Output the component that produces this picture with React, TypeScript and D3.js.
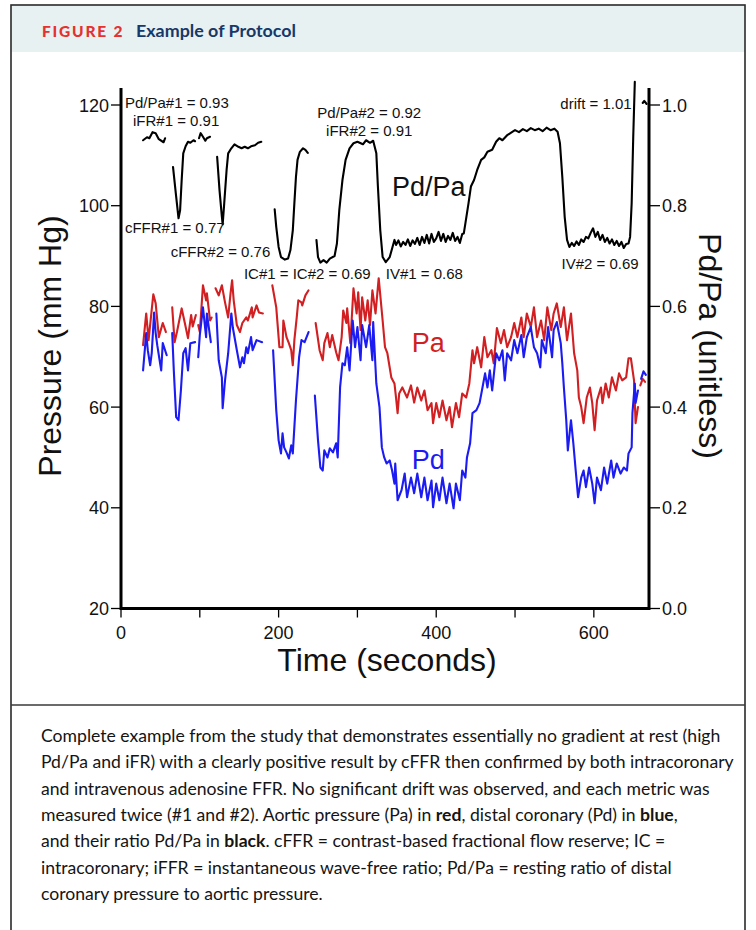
import React from "react";
import * as d3 from "d3";

type Pt = [number, number];

// Aortic pressure Pa (mm Hg) vs time (s), one array per recorded stretch
const paSegments: Pt[][] = [
  [[28, 72.3], [32, 78.6], [35, 73.3], [41, 82.4], [44, 80.6], [48, 73.9], [53, 76.7], [57, 74.9]],
  [[65, 79.8], [68, 72.9], [71, 74.9], [77, 79.6], [81, 76.7], [85, 73.7], [89, 78.3], [91, 76.0], [95, 78.3]],
  [[98, 76.3], [100, 74.9], [104, 84.2], [108, 81.2], [109, 82.6], [113, 77.2], [115, 77.8]],
  [[120, 83.6], [124, 82.2], [128, 84.2], [132, 80.8], [136, 77.8], [139, 82.6], [141, 85.2], [143, 81.2], [147, 76.3], [151, 74.9], [154, 76.7], [159, 77.8], [161, 77.2], [166, 79.8], [167, 77.8], [172, 80.2], [175, 78.8], [180, 78.6]],
  [[192, 84.2], [197, 79.8], [201, 71.9], [205, 71.9], [206, 77.2], [210, 73.9], [213, 72.7], [216, 71.3], [218, 68.3], [220, 73.3], [223, 77.8], [225, 81.2], [229, 80.8], [230, 80.2], [234, 82.2], [238, 83.2]],
  [[247, 76.7], [252, 71.3], [256, 69.3], [258, 72.7], [262, 74.7], [265, 71.9], [268, 74.3], [273, 70.9], [276, 69.3], [280, 73.9], [282, 79.2], [286, 76.7], [287, 79.6], [291, 72.7], [295, 83.6], [299, 78.6], [301, 82.8], [304, 75.3], [306, 81.8], [310, 77.2], [313, 81.2], [316, 76.3], [319, 83.2], [323, 78.6], [327, 85.6], [332, 77.2], [335, 71.9], [338, 70.7], [343, 65.9], [347, 64.7], [349, 61.9], [351, 58.8], [353, 62.7], [357, 63.9], [363, 61.9], [368, 64.3], [372, 60.9], [376, 63.9], [381, 61.3], [385, 63.3], [389, 59.4], [394, 60.8], [396, 56.8], [400, 60.8], [404, 58.0], [408, 61.3], [413, 57.4], [417, 60.0], [420, 56.0], [425, 60.8], [429, 58.0], [433, 62.7], [438, 61.9], [442, 64.7], [446, 71.3], [448, 68.7], [452, 71.9], [457, 67.9], [461, 73.9], [465, 69.9], [470, 71.3], [473, 68.7], [477, 75.7], [482, 72.7], [486, 75.3], [490, 71.9], [495, 73.9], [499, 76.7], [503, 73.9], [508, 77.8], [511, 73.9], [515, 78.6], [520, 75.9], [524, 79.8], [528, 73.9], [533, 77.2], [537, 73.3], [541, 79.8], [546, 75.3], [549, 78.6], [553, 80.6], [558, 75.9], [562, 79.8], [566, 73.3], [571, 78.6], [575, 70.7], [579, 67.3], [581, 61.9], [584, 60.0], [587, 56.8], [591, 61.9], [595, 63.9], [598, 60.8], [601, 55.4], [604, 61.3], [609, 63.9], [611, 60.8], [615, 64.7], [619, 61.9], [623, 65.9], [628, 63.3], [632, 66.7], [636, 65.3], [641, 65.9], [644, 69.7], [647, 69.7], [651, 65.3], [653, 56.8], [656, 60.0]],
  [[659, 64.3], [662, 65.6], [665, 65.0]],
];

// Distal coronary pressure Pd (mm Hg)
const pdSegments: Pt[][] = [
  [[28, 67.3], [32, 74.7], [34, 71.3], [37, 68.3], [39, 70.7], [42, 78.8], [44, 74.7], [46, 72.3], [51, 67.3], [53, 72.7], [58, 70.3]],
  [[65, 74.7], [67, 67.3], [70, 58.0], [73, 57.4], [76, 63.3], [79, 70.7], [82, 71.7], [85, 67.3], [88, 72.7], [94, 72.9]],
  [[98, 69.9], [100, 74.3], [104, 79.8], [108, 73.9], [109, 78.6], [114, 72.9]],
  [[121, 78.6], [124, 69.3], [128, 65.9], [129, 59.8], [132, 65.3], [136, 70.7], [140, 78.6], [142, 75.7], [147, 71.3], [151, 67.9], [154, 69.9], [156, 68.7], [159, 71.9], [161, 70.7], [165, 73.9], [167, 71.3], [172, 73.3], [179, 72.9]],
  [[193, 71.3], [197, 59.4], [200, 53.4], [203, 50.8], [205, 54.8], [207, 52.0], [210, 51.0], [213, 49.8], [216, 52.4], [218, 50.8], [222, 61.3], [226, 69.9], [229, 73.3], [233, 72.9], [238, 74.9]],
  [[246, 62.3], [250, 53.4], [253, 48.0], [256, 47.4], [258, 51.4], [262, 50.0], [265, 51.8], [269, 51.0], [273, 52.8], [275, 50.0], [278, 63.9], [281, 68.7], [284, 68.3], [287, 71.9], [290, 67.3], [294, 77.2], [297, 71.9], [300, 75.9], [304, 69.3], [306, 76.3], [311, 71.9], [315, 76.3], [319, 69.3], [320, 76.9], [324, 64.7], [328, 60.0], [331, 52.0], [334, 50.0], [337, 48.8], [341, 49.4], [344, 47.4], [347, 44.8], [348, 48.8], [351, 41.5], [356, 43.5], [360, 46.8], [363, 42.1], [368, 46.0], [372, 42.9], [376, 46.8], [381, 42.1], [385, 46.0], [389, 41.5], [394, 45.4], [396, 40.1], [400, 44.8], [404, 41.5], [408, 46.0], [413, 40.9], [417, 44.8], [422, 39.9], [425, 44.8], [430, 41.5], [433, 47.4], [437, 46.0], [439, 50.0], [443, 52.8], [446, 58.8], [451, 59.4], [455, 60.8], [458, 63.3], [462, 66.7], [465, 63.9], [468, 67.3], [471, 63.3], [476, 70.7], [480, 69.3], [484, 71.3], [487, 65.3], [490, 70.7], [495, 69.3], [499, 73.3], [503, 70.7], [508, 74.3], [511, 69.9], [515, 73.9], [520, 75.9], [524, 71.9], [528, 70.7], [532, 67.9], [534, 73.3], [539, 70.7], [542, 75.9], [547, 69.9], [549, 75.3], [553, 76.9], [558, 72.7], [560, 68.7], [562, 63.9], [565, 57.4], [567, 51.4], [571, 57.4], [574, 52.8], [577, 47.4], [580, 42.1], [584, 46.0], [587, 47.4], [590, 44.1], [594, 48.0], [598, 44.8], [601, 40.9], [604, 46.0], [609, 43.5], [613, 48.0], [617, 44.8], [622, 49.4], [625, 46.0], [629, 48.8], [634, 46.8], [638, 48.0], [642, 47.4], [644, 50.8], [648, 52.0], [649, 58.8], [652, 64.7], [653, 60.8], [656, 63.3]],
  [[660, 65.6], [663, 67.1], [666, 66.4]],
];

// Pd/Pa ratio (unitless, right axis)
const ratioSegments: Pt[][] = [
  [[28, 0.930], [33, 0.936], [36, 0.934], [40, 0.946], [44, 0.944], [48, 0.932], [54, 0.926], [56, 0.934]],
  [[66, 0.877], [70, 0.818], [73, 0.775], [75, 0.791], [77, 0.851], [79, 0.904], [82, 0.918], [85, 0.927], [88, 0.925], [92, 0.930], [94, 0.928]],
  [[99, 0.934], [101, 0.944], [104, 0.937], [107, 0.929], [109, 0.934], [113, 0.937]],
  [[122, 0.897], [125, 0.831], [128, 0.778], [129, 0.763], [131, 0.805], [134, 0.871], [136, 0.904], [140, 0.914], [144, 0.922], [149, 0.917], [153, 0.914], [157, 0.917], [161, 0.914], [165, 0.918], [170, 0.920], [174, 0.925], [178, 0.927]],
  [[195, 0.793], [197, 0.758], [200, 0.718], [203, 0.698], [208, 0.693], [212, 0.695], [215, 0.712], [218, 0.751], [220, 0.805], [222, 0.857], [224, 0.891], [227, 0.907], [231, 0.914], [234, 0.911], [237, 0.905]],
  [[248, 0.732], [250, 0.698], [253, 0.687], [257, 0.692], [261, 0.687], [265, 0.695], [271, 0.700], [274, 0.725], [277, 0.791], [281, 0.851], [285, 0.891], [290, 0.914], [295, 0.924], [300, 0.927], [307, 0.922], [311, 0.930], [316, 0.925], [320, 0.929], [324, 0.904], [326, 0.838], [329, 0.751], [332, 0.698], [336, 0.688], [341, 0.698], [347, 0.732],
    [349, 0.722], [352, 0.731], [355, 0.719], [358, 0.728], [361, 0.722], [364, 0.733], [367, 0.720], [370, 0.731], [373, 0.724], [376, 0.736], [379, 0.722], [382, 0.738], [385, 0.726], [388, 0.742], [391, 0.725], [394, 0.744], [397, 0.728], [400, 0.735], [403, 0.748], [406, 0.730], [409, 0.744], [412, 0.728], [415, 0.740], [418, 0.732], [421, 0.746], [424, 0.730], [427, 0.738], [430, 0.726], [433, 0.744],
    [435, 0.745], [437, 0.765], [441, 0.805], [444, 0.838], [448, 0.851], [452, 0.871], [457, 0.891], [461, 0.896], [465, 0.907], [471, 0.911], [476, 0.927], [480, 0.934], [484, 0.930], [490, 0.940], [497, 0.947],
    [500, 0.950], [505, 0.946], [510, 0.952], [515, 0.948], [520, 0.954], [525, 0.950], [530, 0.953], [535, 0.948], [540, 0.955], [545, 0.950], [550, 0.953], [554, 0.947],
    [557, 0.924], [560, 0.857], [563, 0.778], [566, 0.732], [569, 0.718],
    [572, 0.726], [575, 0.720], [578, 0.729], [581, 0.722], [584, 0.733], [587, 0.728], [590, 0.738], [593, 0.735], [596, 0.746], [599, 0.755], [602, 0.738], [605, 0.748], [608, 0.732], [611, 0.742], [614, 0.728], [617, 0.736], [620, 0.725], [623, 0.733], [626, 0.722], [629, 0.730], [632, 0.720], [635, 0.728], [638, 0.716], [641, 0.724], [644, 0.725],
    [646, 0.738], [648, 0.805], [650, 0.937], [652, 1.046]],
  [[662, 1.004], [664, 1.008], [667, 1.002]],
];

const pressureTicks = [20, 40, 60, 80, 100, 120];
const ratioTicks = [0, 0.2, 0.4, 0.6, 0.8, 1.0];
const timeTicks = [0, 100, 200, 300, 400, 500, 600];
const timeLabels = [0, 200, 400, 600];

// annotation anchors: time (s) and Pd/Pa value
const notes = [
  { text: "Pd/Pa#1 = 0.93", t: 5, r: 0.995, anchor: "start" },
  { text: "iFR#1 = 0.91", t: 70, r: 0.959, anchor: "middle" },
  { text: "cFFR#1 = 0.77", t: 5, r: 0.745, anchor: "start" },
  { text: "cFFR#2 = 0.76", t: 63, r: 0.699, anchor: "start" },
  { text: "IC#1 = IC#2 = 0.69", t: 156, r: 0.655, anchor: "start" },
  { text: "IV#1 = 0.68", t: 336, r: 0.655, anchor: "start" },
  { text: "Pd/Pa#2 = 0.92", t: 315, r: 0.975, anchor: "middle" },
  { text: "iFR#2 = 0.91", t: 315, r: 0.939, anchor: "middle" },
  { text: "drift = 1.01", t: 648, r: 0.993, anchor: "end" },
  { text: "IV#2 = 0.69", t: 608, r: 0.675, anchor: "middle" },
];

const captionLines: [string, boolean][][] = [
  [["Complete example from the study that demonstrates essentially no gradient at rest (high", false]],
  [["Pd/Pa and iFR) with a clearly positive result by cFFR then confirmed by both intracoronary", false]],
  [["and intravenous adenosine FFR. No significant drift was observed, and each metric was", false]],
  [["measured twice (#1 and #2). Aortic pressure (Pa) in ", false], ["red", true], [", distal coronary (Pd) in ", false], ["blue", true], [",", false]],
  [["and their ratio Pd/Pa in ", false], ["black", true], [". cFFR = contrast-based fractional flow reserve; IC =", false]],
  [["intracoronary; iFFR = instantaneous wave-free ratio; Pd/Pa = resting ratio of distal", false]],
  [["coronary pressure to aortic pressure.", false]],
];

const RED = "#d11f22";
const BLUE = "#1b1bf2";
const AX = "Liberation Sans, Arial, sans-serif";

export default function App() {
  const x = d3.scaleLinear().domain([0, 670]).range([121, 649]);
  const yL = d3.scaleLinear().domain([20, 120]).range([608.5, 105]);
  const yR = d3.scaleLinear().domain([0, 1]).range([608.5, 105]);

  const lineL = d3.line<Pt>().x((d) => x(d[0])).y((d) => yL(d[1]));
  const lineR = d3.line<Pt>().x((d) => x(d[0])).y((d) => yR(d[1]));

  const x0 = x(0);
  const x1 = x(670);
  const yBot = yL(20);
  const yTop = yR(1.034);

  return (
    <div style={{ position: "absolute", left: 0, top: 0 }}>
      <svg width={756} height={930} style={{ display: "block" }}>
        <rect x={0} y={0} width={756} height={930} fill="#fff" />
        {/* header */}
        <rect x={11} y={5} width={734} height={47} fill="#e8f1f1" />
        <text x={42} y={37} fontFamily="Lato, sans-serif" fontWeight={900} fontSize={15.5} letterSpacing={1.8} fill="#e3322f">
          FIGURE 2
        </text>
        <text x={136} y={37} fontFamily="Lato, sans-serif" fontWeight={700} fontSize={17.5} fill="#17386a" textLength={160} lengthAdjust="spacingAndGlyphs">
          Example of Protocol
        </text>
        <rect x={11} y={5} width={734} height={940} fill="none" stroke="#2a2a2a" strokeWidth={1.6} />
        <line x1={11} x2={745} y1={705} y2={705} stroke="#3a3a3a" strokeWidth={1.4} />

        {/* traces */}
        <g fill="none" strokeLinejoin="round" strokeLinecap="round">
          {paSegments.map((s, i) => (
            <path key={"pa" + i} d={lineL(s) || ""} stroke={RED} strokeWidth={2.1} />
          ))}
          {pdSegments.map((s, i) => (
            <path key={"pd" + i} d={lineL(s) || ""} stroke={BLUE} strokeWidth={2.1} />
          ))}
          {ratioSegments.map((s, i) => (
            <path key={"r" + i} d={lineR(s) || ""} stroke="#000" strokeWidth={2.1} />
          ))}
        </g>

        {/* axes */}
        <g stroke="#000">
          <line x1={x0} x2={x0} y1={yTop} y2={yBot + 1.5} strokeWidth={3} />
          <line x1={x1} x2={x1} y1={yTop} y2={yBot + 1.5} strokeWidth={3} />
          <line x1={x0} x2={x1} y1={yBot} y2={yBot} strokeWidth={3} />
          {pressureTicks.map((v) => (
            <line key={"lt" + v} x1={x0 - 10} x2={x0} y1={yL(v)} y2={yL(v)} strokeWidth={1.3} />
          ))}
          {ratioTicks.map((v) => (
            <line key={"rt" + v} x1={x1} x2={x1 + 11} y1={yR(v)} y2={yR(v)} strokeWidth={1.3} />
          ))}
          {timeTicks.map((v) => (
            <line key={"bt" + v} x1={x(v)} x2={x(v)} y1={yBot} y2={yBot + 9} strokeWidth={1.3} />
          ))}
        </g>
        <g fontFamily={AX} fontSize={18} fill="#111">
          {pressureTicks.map((v) => (
            <text key={"ll" + v} x={x0 - 12} y={yL(v) + 6.5} textAnchor="end">
              {v}
            </text>
          ))}
          {ratioTicks.map((v) => (
            <text key={"rl" + v} x={x1 + 13} y={yR(v) + 6.5}>
              {v.toFixed(1)}
            </text>
          ))}
          {timeLabels.map((v) => (
            <text key={"bl" + v} x={x(v)} y={639} textAnchor="middle">
              {v}
            </text>
          ))}
        </g>
        <g fontFamily={AX} fontSize={32} fill="#111">
          <text x={387} y={671} textAnchor="middle">Time (seconds)</text>
          <text transform="translate(61,346) rotate(-90)" textAnchor="middle">Pressure (mm Hg)</text>
          <text transform="translate(699,346) rotate(90)" textAnchor="middle">Pd/Pa (unitless)</text>
        </g>

        {/* annotations */}
        <g fontFamily={AX} fontSize={15} fill="#111">
          {notes.map((n) => (
            <text key={n.text} x={x(n.t)} y={yR(n.r)} textAnchor={n.anchor as any}>
              {n.text}
            </text>
          ))}
        </g>
        <g fontFamily={AX} fontSize={27}>
          <text x={x(344)} y={yR(0.819)} fill="#111">Pd/Pa</text>
          <text x={x(369)} y={yL(70.9)} fill={RED}>Pa</text>
          <text x={x(369)} y={yL(47.8)} fill={BLUE}>Pd</text>
        </g>

        {/* caption */}
        <g fontFamily="Lato, sans-serif" fontSize={17.6} fill="#141414">
          {captionLines.map((parts, i) => (
            <text key={"c" + i} x={41} y={742 + i * 26.3}>
              {parts.map(([s, b], j) => (
                <tspan key={j} fontWeight={b ? 700 : 400}>
                  {s}
                </tspan>
              ))}
            </text>
          ))}
        </g>
      </svg>
    </div>
  );
}
